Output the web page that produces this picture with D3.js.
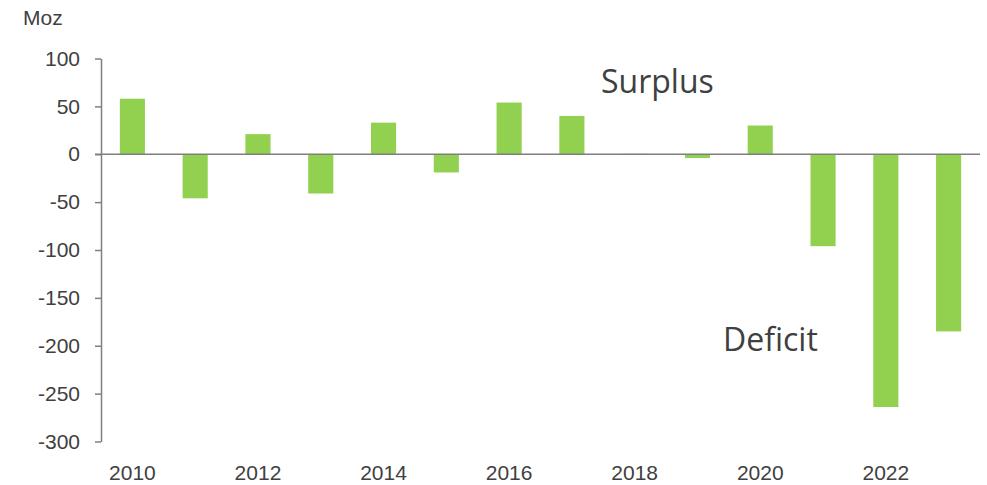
<!DOCTYPE html>
<html>
<head>
<meta charset="utf-8">
<script src="https://cdn.jsdelivr.net/npm/d3@7"></script>
<style>
body { margin: 0; background: #fff; }
svg text { font-family: "Liberation Sans", Arial, sans-serif; fill: #404040; }
.axis path, .axis line { stroke: #7f7f7f; stroke-width: 1.5; }
</style>
</head>
<body>
<svg id="graph"></svg>
<script>
var screenWidth = 987;
var screenHeight = 485;

// market balance, Moz
var years = [2010, 2011, 2012, 2013, 2014, 2015, 2016, 2017, 2018, 2019, 2020, 2021, 2022, 2023];
var balance = [58, -46, 21, -41, 33, -19, 54, 40, 0.5, -4, 30, -96, -264, -185];
var yTicks = [100, 50, 0, -50, -100, -150, -200, -250, -300];
var xLabels = [2010, 2012, 2014, 2016, 2018, 2020, 2022];

var plotLeft = 101, plotRight = 980, plotTop = 58.5, plotBottom = 441.5;

var svg = d3.select('#graph')
	.attr('width', screenWidth)
	.attr('height', screenHeight);

var x = d3.scaleBand()
	.domain(years)
	.range([plotLeft, plotRight])
	.paddingInner(0.6)
	.paddingOuter(0.3);

var y = d3.scaleLinear()
	.domain([-300, 100])
	.range([plotBottom, plotTop]);

// bars
svg.append('g')
	.selectAll('rect')
	.data(years)
	.enter()
	.append('rect')
	.attr('x', function(d) { return x(d); })
	.attr('width', x.bandwidth())
	.attr('y', function(d, i) { return y(Math.max(0, balance[i])); })
	.attr('height', function(d, i) { return Math.abs(y(balance[i]) - y(0)); })
	.attr('fill', '#92d050');

// y axis (plain hyphen for negatives, like the original)
var yAxis = svg.append('g')
	.classed('axis', true)
	.attr('transform', 'translate(' + plotLeft + ',0)')
	.call(d3.axisLeft(y)
		.tickValues(yTicks)
		.tickFormat(function(d) { return String(d); })
		.tickSize(6)
		.tickSizeOuter(0)
		.tickPadding(15));
yAxis.selectAll('text')
	.style('font-size', '21px')
	.attr('fill', '#404040');

// zero line
svg.append('line')
	.attr('x1', plotLeft - 6)
	.attr('x2', plotRight)
	.attr('y1', y(0))
	.attr('y2', y(0))
	.attr('stroke', '#7f7f7f')
	.attr('stroke-width', 1.5);

// year labels
svg.append('g')
	.selectAll('text')
	.data(xLabels)
	.enter()
	.append('text')
	.attr('x', function(d) { return x(d) + x.bandwidth() / 2; })
	.attr('y', 480)
	.attr('text-anchor', 'middle')
	.style('font-size', '21px')
	.text(function(d) { return d; });

// unit
svg.append('text')
	.attr('x', 23)
	.attr('y', 25)
	.style('font-size', '21px')
	.text('Moz');

// annotations
svg.append('text')
	.attr('x', 601)
	.attr('y', 93)
	.style('font-family', '"Open Sans", sans-serif')
	.style('font-size', '32px')
	.text('Surplus');
svg.append('text')
	.attr('x', 723)
	.attr('y', 351)
	.style('font-family', '"Open Sans", sans-serif')
	.style('font-size', '32px')
	.text('Deficit');
</script>
</body>
</html>
